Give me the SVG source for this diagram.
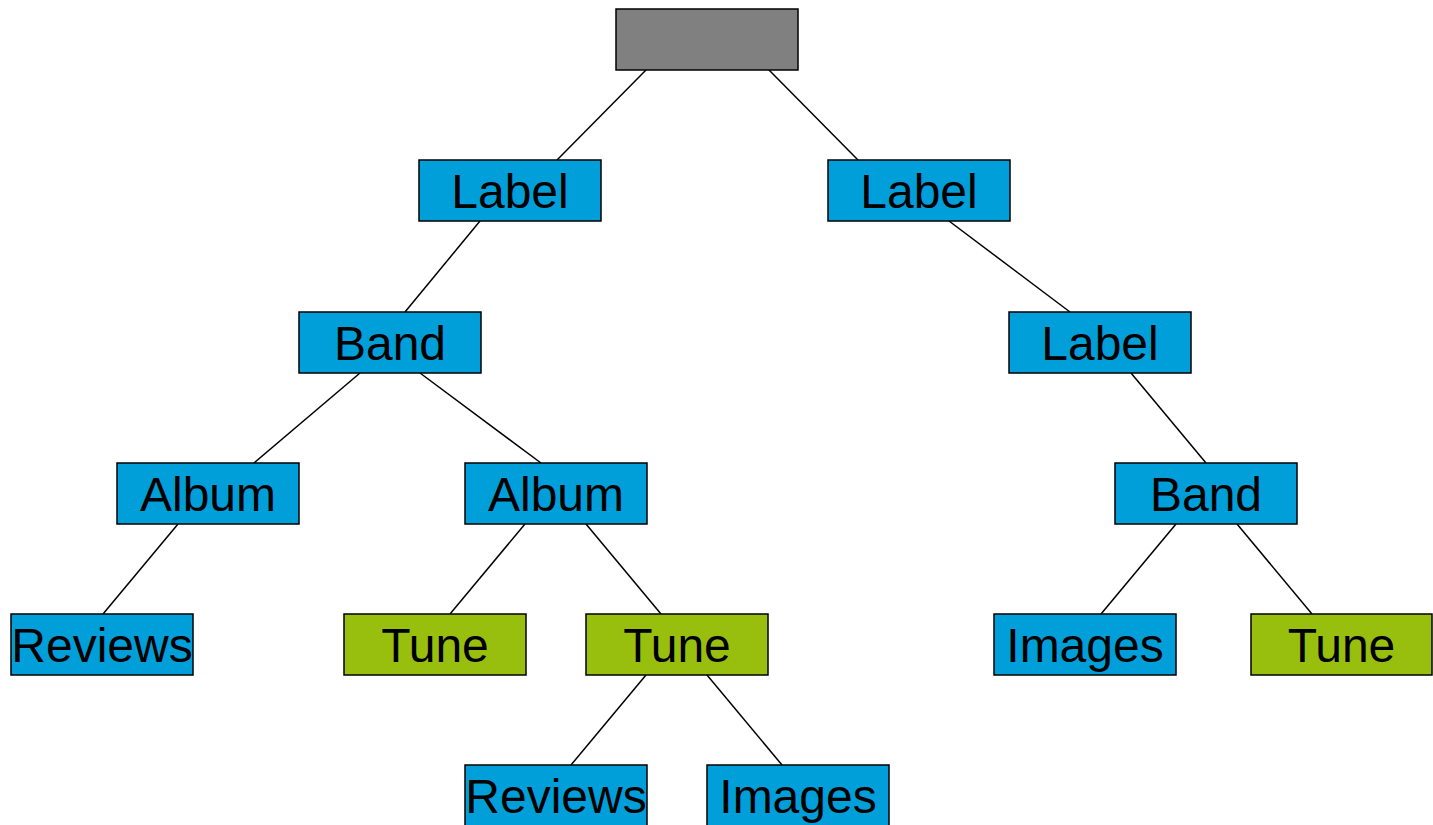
<svg xmlns="http://www.w3.org/2000/svg" width="1433" height="825" viewBox="0 0 1433 825">
<style>
rect{stroke:#000;stroke-width:1.5}
.g{fill:#808080}
.b{fill:#009fda}
.t{fill:#99bf0e}
text{font-family:"Liberation Sans",Arial,sans-serif;font-size:48px;fill:#000;text-anchor:middle}
#edges line{stroke:#000;stroke-width:1.5}
</style>
<rect width="1433" height="825" fill="#fff" style="stroke:none"/>
<g id="edges">
<line x1="646" y1="70" x2="557" y2="160"/>
<line x1="769" y1="70" x2="858" y2="160"/>
<line x1="480" y1="221" x2="405" y2="312"/>
<line x1="949" y1="221" x2="1070" y2="312"/>
<line x1="360" y1="373" x2="254" y2="463"/>
<line x1="420" y1="373" x2="541" y2="463"/>
<line x1="1131" y1="373" x2="1206" y2="463"/>
<line x1="178" y1="524" x2="103" y2="614"/>
<line x1="525" y1="524" x2="450" y2="614"/>
<line x1="586" y1="524" x2="661" y2="614"/>
<line x1="1176" y1="524" x2="1101" y2="614"/>
<line x1="1237" y1="524" x2="1312" y2="614"/>
<line x1="646" y1="675" x2="571" y2="765"/>
<line x1="707" y1="675" x2="782" y2="765"/>
</g>
<g id="root"><rect class="g" x="616" y="9" width="182" height="61"/></g>
<g id="label1"><rect class="b" x="419" y="160" width="182" height="61"/><text x="510" y="207.5">Label</text></g>
<g id="label2"><rect class="b" x="828" y="160" width="182" height="61"/><text x="919" y="207.5">Label</text></g>
<g id="band1"><rect class="b" x="299" y="312" width="182" height="61"/><text x="390" y="359.5">Band</text></g>
<g id="label3"><rect class="b" x="1009" y="312" width="182" height="61"/><text x="1100" y="359.5">Label</text></g>
<g id="album1"><rect class="b" x="117" y="463" width="182" height="61"/><text x="208" y="510.5">Album</text></g>
<g id="album2"><rect class="b" x="465" y="463" width="182" height="61"/><text x="556" y="510.5">Album</text></g>
<g id="band2"><rect class="b" x="1115" y="463" width="182" height="61"/><text x="1206" y="510.5">Band</text></g>
<g id="reviews1"><rect class="b" x="11" y="614" width="182" height="61"/><text x="102" y="661.5">Reviews</text></g>
<g id="tune1"><rect class="t" x="344" y="614" width="182" height="61"/><text x="435" y="661.5">Tune</text></g>
<g id="tune2"><rect class="t" x="586" y="614" width="182" height="61"/><text x="677" y="661.5">Tune</text></g>
<g id="images1"><rect class="b" x="994" y="614" width="182" height="61"/><text x="1085" y="661.5">Images</text></g>
<g id="tune3"><rect class="t" x="1251" y="614" width="181" height="61"/><text x="1341.5" y="661.5">Tune</text></g>
<g id="reviews2"><rect class="b" x="465" y="765" width="182" height="61"/><text x="556" y="812.5">Reviews</text></g>
<g id="images2"><rect class="b" x="707" y="765" width="182" height="61"/><text x="798" y="812.5">Images</text></g>
</svg>
